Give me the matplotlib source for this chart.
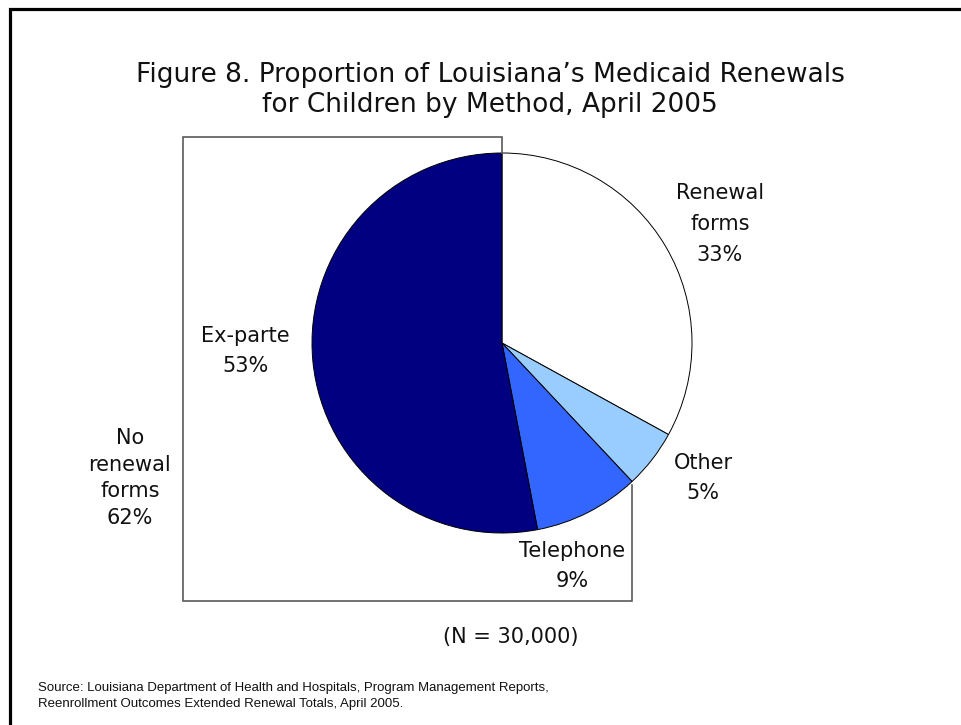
import matplotlib
matplotlib.use("Agg")
import matplotlib.pyplot as plt

# chart data
labels = ["Renewal\nforms\n33%", "Other\n5%", "Telephone\n9%", "Ex-parte\n53%"]
values = [33, 5, 9, 53]
colors = ["#FFFFFF", "#99CCFF", "#3366FF", "#000080"]
title = "Figure 8. Proportion of Louisiana\u2019s Medicaid Renewals\nfor Children by Method, April 2005"
group_label = "No\nrenewal\nforms\n62%"
note = "(N = 30,000)"
source = ("Source: Louisiana Department of Health and Hospitals, Program Management Reports,\n"
          "Reenrollment Outcomes Extended Renewal Totals, April 2005.")

W, H = 961, 725
fig = plt.figure(figsize=(W / 100, H / 100), dpi=100)
ax = fig.add_axes([0, 0, 1, 1])

def Y(y):
    # pixel row -> data y
    return H - y

font = ["DejaVu Sans"]
ink = "#111111"

# pie
cx, cy, r = 502, 343, 190
ax.pie(values, colors=colors, startangle=90, counterclock=False,
       center=(cx, Y(cy)), radius=r, frame=True,
       wedgeprops=dict(edgecolor="black", linewidth=0.7))
ax.set_xlim(0, W)
ax.set_ylim(0, H)
ax.set_aspect("equal")
ax.axis("off")

# bracket around the "no renewal forms" group
gray = "#5a5a5a"
ax.plot([cx, cx, 183, 183, 632, 632],
        [Y(cy - r), Y(137), Y(137), Y(601), Y(601), Y(485)],
        color=gray, lw=1.2, solid_joinstyle="miter")

# frame lines (top and left only)
ax.plot([10, 10, W], [0, Y(9), Y(9)], color="black", lw=2.3, solid_joinstyle="miter")

# slice labels
label_pos = [(720, 224), (703, 478), (572, 566), (245, 351)]
for text, (x, y) in zip(labels, label_pos):
    ax.text(x, Y(y), text, ha="center", va="center", fontsize=15,
            family=font, color=ink, linespacing=1.67)

ax.text(130, Y(478), group_label, ha="center", va="center", fontsize=15,
        family=font, color=ink, linespacing=1.42)

ax.text(490, Y(90), title, ha="center", va="center", fontsize=19,
        family=font, color=ink, linespacing=1.23)

ax.text(511, Y(637), note, ha="center", va="center", fontsize=15,
        family=font, color=ink)

ax.text(38, Y(696), source, ha="left", va="center", fontsize=9.5,
        family=["Liberation Sans", "DejaVu Sans"],
        color=ink, linespacing=1.55)

fig.savefig("out.png", dpi=100)
